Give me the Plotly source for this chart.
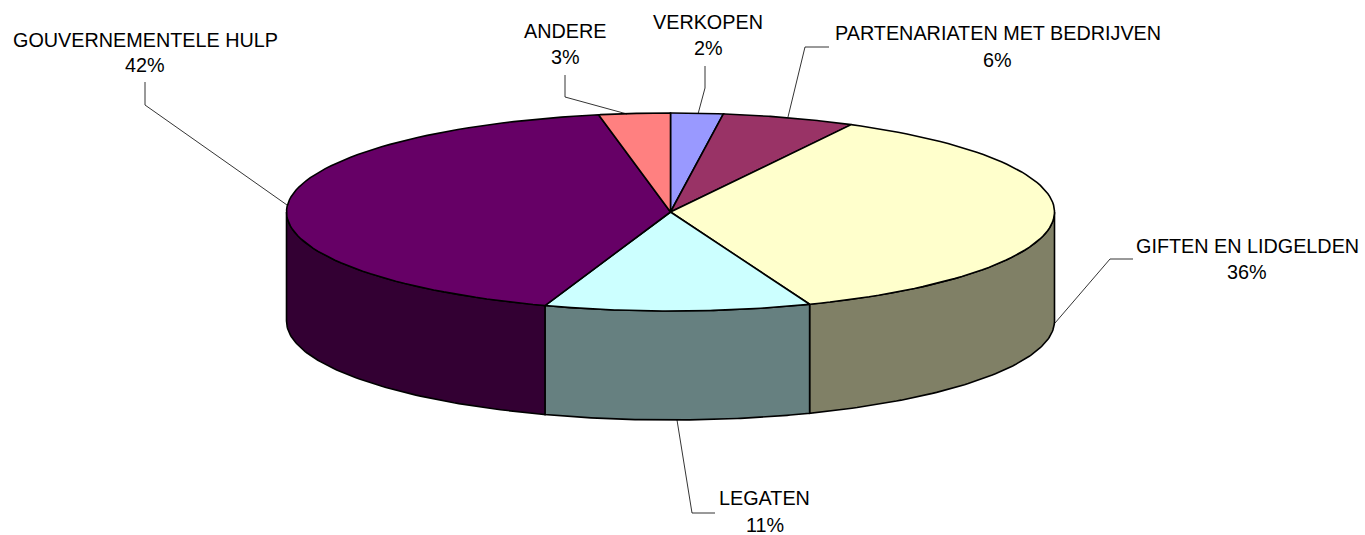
import numpy as np
import plotly.graph_objects as go

# ---- data ----
categories = ["VERKOPEN", "PARTENARIATEN MET BEDRIJVEN", "GIFTEN EN LIDGELDEN",
              "LEGATEN", "GOUVERNEMENTELE HULP", "ANDERE"]
values = [2.2, 5.6, 36.3, 11.2, 41.7, 3.0]
top_colors = ["#9999FF", "#993366", "#FFFFCC", "#CCFFFF", "#660066", "#FF8080"]
side_colors = ["#4D4D80", "#4D1A33", "#808066", "#668080", "#330033", "#804040"]

# ---- layout (pixel geometry of the 3D pie) ----
W, H = 1365, 535
CX, CY, RX, RY, DEPTH = 670.5, 212.0, 384.0, 99.0, 109.0
FONT = "Liberation Sans, Arial, sans-serif"
FS = 19.8

# label cap-centre positions (name, pct) and leader paths
label_layout = [
    (708, 22, 47.5, [(705, 66), (705, 88), (698, 114)]),
    (997.5, 33, 59.5, [(829, 47), (805, 47), (788, 117)]),
    (1247, 245.5, 271.5, [(1133, 259), (1110, 259), (1055, 323)]),
    (764.5, 497.5, 524.5, [(715, 513), (692, 513), (677, 420)]),
    (145, 39.5, 64.5, [(145, 82), (145, 105), (287, 205)]),
    (565, 30.5, 56.5, [(565, 75), (565, 97), (627, 114)]),
]


def pts(t0, t1, dy=0.0, n=80):
    t = np.radians(np.linspace(t0, t1, n))
    return CX + RX * np.sin(t), CY - RY * np.cos(t) + dy


total = sum(values)
cum = np.concatenate([[0], np.cumsum(values)]) / total * 360.0

fig = go.Figure()

# side walls (front half only)
for i in range(len(values)):
    lo, hi = max(cum[i], 90.0), min(cum[i + 1], 270.0)
    if lo < hi:
        xt, yt = pts(lo, hi)
        xb, yb = pts(lo, hi, DEPTH)
        xs = np.concatenate([xt, xb[::-1], xt[:1]])
        ys = np.concatenate([yt, yb[::-1], yt[:1]])
        fig.add_trace(go.Scatter(x=xs, y=ys, mode="lines", fill="toself",
                                 fillcolor=side_colors[i],
                                 line=dict(color="black", width=1.6),
                                 hoverinfo="skip", showlegend=False))

# top faces
for i in range(len(values)):
    xa, ya = pts(cum[i], cum[i + 1])
    xs = np.concatenate([[CX], xa, [CX]])
    ys = np.concatenate([[CY], ya, [CY]])
    fig.add_trace(go.Scatter(x=xs, y=ys, mode="lines", fill="toself",
                             fillcolor=top_colors[i],
                             line=dict(color="black", width=1.6),
                             hoverinfo="skip", showlegend=False,
                             name=categories[i]))

# labels and leader lines
for i, (lx, y1, y2, path) in enumerate(label_layout):
    pct = f"{round(values[i] / total * 100)}%"
    fig.add_annotation(x=lx, y=y1, text=categories[i], showarrow=False,
                       xanchor="center", yanchor="middle",
                       font=dict(family=FONT, size=FS, color="black"))
    fig.add_annotation(x=lx, y=y2, text=pct, showarrow=False,
                       xanchor="center", yanchor="middle",
                       font=dict(family=FONT, size=FS, color="black"))
    d = "M " + " L ".join(f"{px},{py}" for px, py in path)
    fig.add_shape(type="path", path=d, line=dict(color="black", width=0.8),
                  xref="x", yref="y")

fig.update_layout(
    width=W, height=H,
    margin=dict(l=0, r=0, t=0, b=0),
    paper_bgcolor="white", plot_bgcolor="white",
    xaxis=dict(range=[0, W], visible=False, fixedrange=True),
    yaxis=dict(range=[H, 0], visible=False, fixedrange=True),
    showlegend=False,
)

fig.write_html("out.html", config={"displayModeBar": False},
               post_script="document.body.style.margin='0px';"
                           "document.body.style.overflow='hidden';")
